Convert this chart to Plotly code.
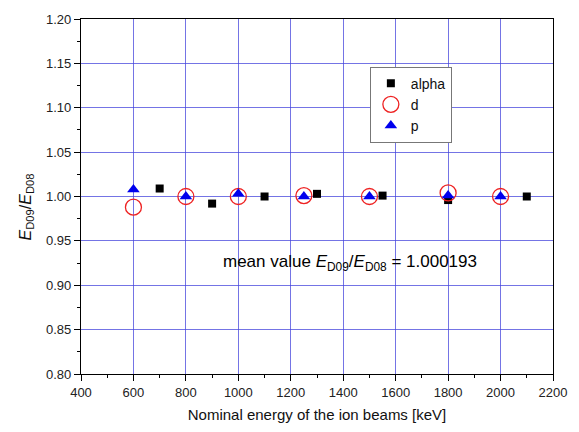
import plotly.graph_objects as go

# data
alpha_x = [700, 900, 1100, 1300, 1550, 1800, 2100]
alpha_y = [1.009, 0.992, 1.000, 1.003, 1.001, 0.996, 1.000]
d_x = [600, 800, 1000, 1250, 1500, 1800, 2000]
d_y = [0.988, 1.000, 1.000, 1.001, 1.000, 1.004, 1.000]
p_x = [600, 800, 1000, 1250, 1500, 1800, 2000]
p_y = [1.008, 1.000, 1.003, 1.000, 1.000, 1.001, 1.000]

FONT = "Liberation Sans, Arial, sans-serif"
GRID = "rgba(70,70,220,0.75)"

fig = go.Figure()
fig.add_trace(go.Scatter(x=alpha_x, y=alpha_y, mode="markers", name="alpha",
                         marker=dict(symbol="square", size=8, color="black")))
fig.add_trace(go.Scatter(x=d_x, y=d_y, mode="markers", name="d",
                         marker=dict(symbol="circle-open", size=16, color="#ee2222",
                                     line=dict(width=1.3, color="#ee2222"))))
fig.add_trace(go.Scatter(x=p_x, y=p_y, mode="markers", name="p",
                         marker=dict(symbol="triangle-up", size=11, color="#0000ee")))

fig.add_annotation(x=1425, y=0.925, xref="x", yref="y", showarrow=False,
                   text="mean value <i>E</i><sub>D09</sub>/<i>E</i><sub>D08</sub> = 1.000193",
                   font=dict(family=FONT, size=17, color="black"))

# y-axis title as rotated annotation
fig.add_annotation(x=-0.116, y=0.47, xref="paper", yref="paper", showarrow=False,
                   textangle=-90, xanchor="center", yanchor="middle",
                   text="<i>E</i><sub>D09</sub>/<i>E</i><sub>D08</sub>",
                   font=dict(family=FONT, size=16, color="#111"))

axis_common = dict(showline=True, linecolor="black", linewidth=1.3, mirror=True,
                   ticks="outside", ticklen=6, tickcolor="black", tickwidth=1,
                   showgrid=True, gridcolor=GRID, gridwidth=1, zeroline=False,
                   tickfont=dict(family=FONT, size=13, color="#222"))

fig.update_xaxes(range=[400, 2200], dtick=200, tick0=400,
                 minor=dict(ticks="outside", ticklen=3, dtick=100, tickcolor="black", showgrid=False),
                 title=dict(text="Nominal energy of the ion beams [keV]",
                            font=dict(family=FONT, size=15, color="#111"), standoff=10),
                 **axis_common)
fig.update_yaxes(range=[0.80, 1.20], dtick=0.05, tick0=0.8, tickformat=".2f",
                 minor=dict(ticks="outside", ticklen=3, dtick=0.025, tickcolor="black", showgrid=False),
                 **axis_common)

fig.update_layout(
    width=579, height=432,
    margin=dict(l=81, r=16, t=16, b=56),
    plot_bgcolor="white", paper_bgcolor="white",
    legend=dict(x=0.612, y=0.866, xanchor="left", yanchor="top",
                bordercolor="#777", borderwidth=1, bgcolor="white",
                font=dict(family=FONT, size=14, color="#111")),
)

fig.write_html("out.html")
